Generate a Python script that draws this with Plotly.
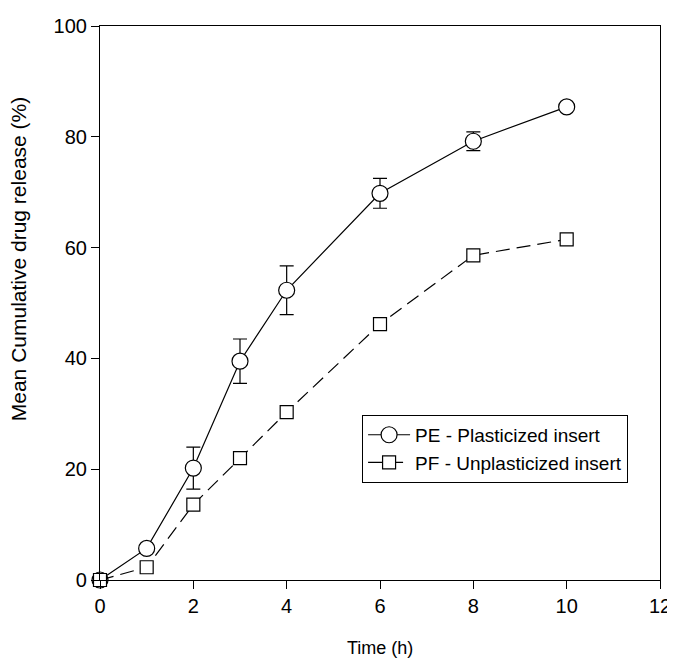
import plotly.graph_objects as go

time_h = [0, 1, 2, 3, 4, 6, 8, 10]
pe_release = [0, 5.7, 20.2, 39.5, 52.3, 69.8, 79.2, 85.4]
pe_error = [0, 0, 3.8, 4.0, 4.4, 2.7, 1.7, 0]
pf_release = [0, 2.3, 13.6, 22.0, 30.3, 46.2, 58.6, 61.5]

x_ticks = [0, 2, 4, 6, 8, 10, 12]
y_ticks = [0, 20, 40, 60, 80, 100]

font_family = "Liberation Sans, Arial, sans-serif"

fig = go.Figure()
fig.add_trace(go.Scatter(
    x=time_h, y=pe_release, mode="lines+markers",
    name="PE - Plasticized insert",
    line=dict(color="black", width=1.2),
    marker=dict(symbol="circle", size=16, color="white", line=dict(color="black", width=1.2)),
    error_y=dict(type="data", array=pe_error, visible=True, color="black", thickness=1.2, width=7),
    cliponaxis=False,
))
fig.add_trace(go.Scatter(
    x=time_h, y=pf_release, mode="lines+markers",
    name="PF - Unplasticized insert",
    line=dict(color="black", width=1.2, dash="14px,7px"),
    marker=dict(symbol="square", size=13, color="white", line=dict(color="black", width=1.2)),
    cliponaxis=False,
))

fig.update_layout(
    width=667, height=650,
    margin=dict(l=92, r=15, t=18, b=78, autoexpand=False),
    paper_bgcolor="white", plot_bgcolor="white",
    font=dict(family=font_family, color="black"),
    showlegend=True,
    legend=dict(
        x=0.468, y=0.298, xanchor="left", yanchor="top",
        bgcolor="white", bordercolor="black", borderwidth=1,
        font=dict(size=19, family=font_family),
        tracegroupgap=0, itemwidth=42,
    ),
    xaxis=dict(
        range=[0, 12], tickvals=x_ticks, ticks="outside", ticklen=8,
        tickwidth=1, tickcolor="black",
        showline=True, linecolor="black", linewidth=1.2, mirror=True,
        showgrid=False, zeroline=False, automargin=False,
        tickfont=dict(size=20),
    ),
    yaxis=dict(
        range=[0, 100], tickvals=y_ticks, ticks="outside", ticklen=8,
        tickwidth=1, tickcolor="black",
        showline=True, linecolor="black", linewidth=1.2, mirror=True,
        showgrid=False, zeroline=False, automargin=False,
        tickfont=dict(size=20),
    ),
    annotations=[
        dict(text="Time (h)", xref="paper", yref="paper", x=0.5, y=0,
             xanchor="center", yanchor="middle", yshift=-68, showarrow=False,
             font=dict(size=18)),
        dict(text="Mean Cumulative drug release (%)", xref="paper", yref="paper",
             x=0, y=0.579, xanchor="center", yanchor="middle", xshift=-82,
             textangle=-90, showarrow=False, font=dict(size=21)),
    ],
)

fig.write_html("out.html", post_script="document.body.style.overflow='hidden';")
